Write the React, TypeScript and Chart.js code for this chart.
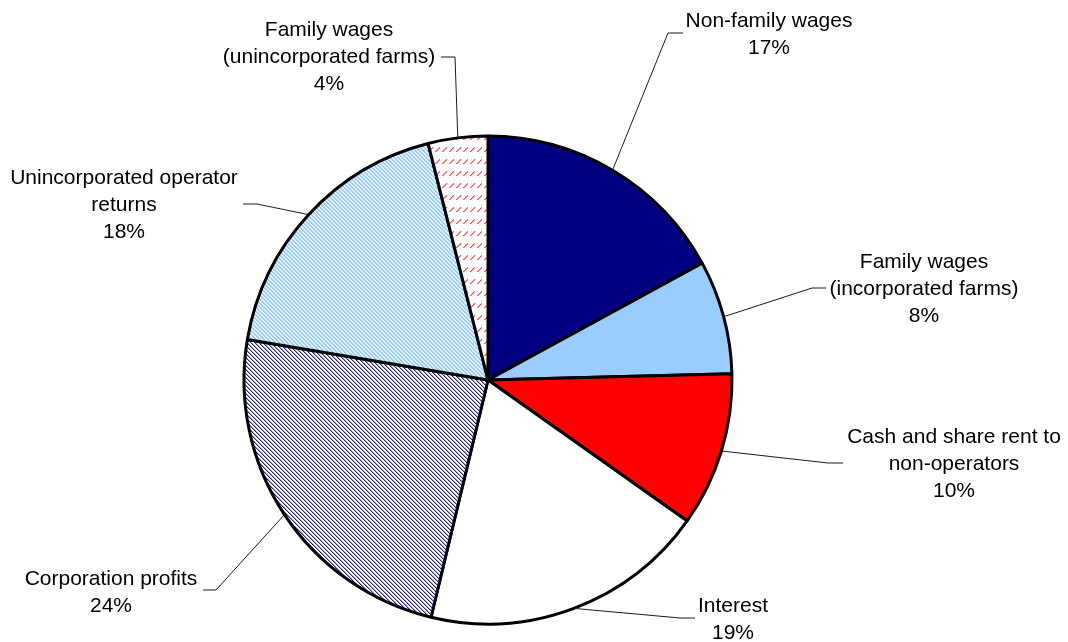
import React, { useEffect, useRef } from 'react';
import { Chart, registerables } from 'chart.js';
Chart.register(...registerables);

// ---- Data ----
const categories = [
  'Non-family wages',
  'Family wages (incorporated farms)',
  'Cash and share rent to non-operators',
  'Interest',
  'Corporation profits',
  'Unincorporated operator returns',
  'Family wages (unincorporated farms)',
];
const labelLines = [
  ['Non-family wages'],
  ['Family wages', '(incorporated farms)'],
  ['Cash and share rent to', 'non-operators'],
  ['Interest'],
  ['Corporation profits'],
  ['Unincorporated operator', 'returns'],
  ['Family wages', '(unincorporated farms)'],
];
const shares = [17.05, 7.55, 10.2, 18.95, 23.9, 18.4, 3.95];

// ---- Layout of labels (text centre x, first baseline y, elbow, end of leader) ----
const labelLayout = [
  { cx: 769, y0: 27, elbow: [668, 33], end: [683, 33] },
  { cx: 924, y0: 268, elbow: [812, 288], end: [826, 288] },
  { cx: 954, y0: 443, elbow: [828, 463], end: [843, 463] },
  { cx: 733, y0: 612, elbow: [680, 618], end: [695, 618] },
  { cx: 111, y0: 585, elbow: [216, 590], end: [203, 590] },
  { cx: 124, y0: 184, elbow: [257, 204], end: [243, 204] },
  { cx: 329, y0: 36, elbow: [455, 57], end: [441, 57] },
];
const LINE_H = 27;
const FONT = '21px "Liberation Sans", Arial, Helvetica, sans-serif';

function makePattern(w: number, h: number, draw: (c: CanvasRenderingContext2D) => void) {
  const cv = document.createElement('canvas');
  cv.width = w;
  cv.height = h;
  const c = cv.getContext('2d')!;
  c.fillStyle = '#ffffff';
  c.fillRect(0, 0, w, h);
  draw(c);
  const p = document.createElement('canvas').getContext('2d')!.createPattern(cv, 'repeat');
  return p as CanvasPattern;
}

export default function App() {
  const ref = useRef<HTMLCanvasElement>(null);
  useEffect(() => {
    const canvas = ref.current!;
    const redDash = makePattern(7, 12, (c) => {
      c.fillStyle = '#ff4a4a';
      for (let k = 0; k < 5; k++) {
        c.fillRect(1 + k, 7 - k, 1, 1);
      }
      c.fillStyle = '#ff9a9a';
      for (let k = 0; k < 4; k++) {
        c.fillRect(2 + k, 7 - k, 1, 1);
      }
    });
    const blueStripe = makePattern(4, 4, (c) => {
      for (let x = 0; x < 4; x++) for (let y = 0; y < 4; y++) {
        const d = ((x - y) % 4 + 4) % 4;
        if (d === 0 || d === 1) { c.fillStyle = '#99ccff'; c.fillRect(x, y, 1, 1); }
        if (d === 2) { c.fillStyle = '#d6eaff'; c.fillRect(x, y, 1, 1); }
      }
    });
    const navyHatch = makePattern(4, 4, (c) => {
      for (let x = 0; x < 4; x++) for (let y = 0; y < 4; y++) {
        const d = ((x - y) % 4 + 4) % 4;
        if (d === 0) { c.fillStyle = '#262696'; c.fillRect(x, y, 1, 1); }
        if (d === 1) { c.fillStyle = '#9c9cd2'; c.fillRect(x, y, 1, 1); }
      }
    });
    const fills: any[] = ['#000080', '#99ccff', '#ff0000', '#ffffff', navyHatch, blueStripe, redDash];
    const total = shares.reduce((a, b) => a + b, 0);

    const labelPlugin = {
      id: 'pieLabels',
      afterDatasetsDraw(chart: any) {
        const ctx = chart.ctx as CanvasRenderingContext2D;
        const meta = chart.getDatasetMeta(0);
        ctx.save();
        meta.data.forEach((arc: any, i: number) => {
          const { x, y, startAngle, endAngle, outerRadius } = arc.getProps(['x', 'y', 'startAngle', 'endAngle', 'outerRadius'], true);
          const mid = (startAngle + endAngle) / 2;
          const sx = x + Math.cos(mid) * outerRadius;
          const sy = y + Math.sin(mid) * outerRadius;
          const L = labelLayout[i];
          ctx.beginPath();
          ctx.strokeStyle = '#1a1a1a';
          ctx.lineWidth = 1;
          ctx.moveTo(sx, sy);
          ctx.lineTo(L.elbow[0], L.elbow[1]);
          ctx.lineTo(L.end[0], L.end[1]);
          ctx.stroke();
          ctx.fillStyle = '#000';
          ctx.font = FONT;
          ctx.textAlign = 'center';
          ctx.textBaseline = 'alphabetic';
          const lines = [...labelLines[i], Math.round((shares[i] / total) * 100) + '%'];
          lines.forEach((t, k) => ctx.fillText(t, L.cx, L.y0 + k * LINE_H));
        });
        ctx.restore();
      },
    };

    const chart = new Chart(canvas, {
      type: 'pie',
      data: {
        labels: categories,
        datasets: [{
          data: shares,
          backgroundColor: fills,
          borderColor: '#000000',
          borderWidth: 3,
        }],
      },
      options: {
        responsive: false,
        animation: false,
        devicePixelRatio: 1,
        radius: 244,
        layout: { padding: { left: 0, right: 92, top: 118, bottom: 0 } },
        plugins: { legend: { display: false }, tooltip: { enabled: false } },
      } as any,
      plugins: [labelPlugin],
    });
    return () => chart.destroy();
  }, []);
  return (
    <div style={{ position: 'fixed', left: 0, top: 0, width: 1068, height: 642, background: '#fff' }}>
      <canvas ref={ref} width={1068} height={642} />
    </div>
  );
}
